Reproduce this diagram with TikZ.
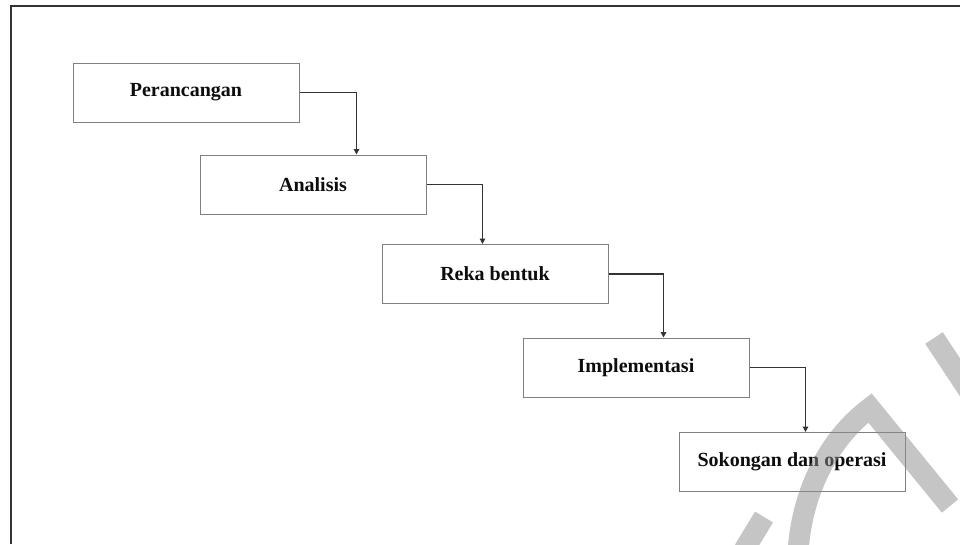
\documentclass[tikz,border=0pt]{standalone}
\usepackage{fontspec}
\setmainfont{Liberation Serif}
\usetikzlibrary{arrows.meta}
\begin{document}
\begin{tikzpicture}[x=1pt,y=-1pt,
  stagebox/.style={draw=black!50,line width=1pt,fill=white,minimum width=226pt,minimum height=59pt,inner sep=0pt,
    font=\fontsize{20}{24}\selectfont\bfseries,text=black!95},
  flow/.style={draw=black!80,line width=1.6pt,-{Triangle[width=5.5pt,length=5.5pt]}},
  frame/.style={draw=black!80,line width=2pt},
  wm/.style={draw=black!45,line width=21pt,opacity=0.5}]
\useasboundingbox (0,0) rectangle (960,544);
\fill[white] (0,0) rectangle (960,544);
\draw[frame] (11,544) -- (11,6) -- (960,6);
\node[stagebox] (p) at (186,92.5) {Perancangan};
\node[stagebox] (a) at (313,184.5) {Analisis};
\node[stagebox] (r) at (495,274) {Reka bentuk};
\node[stagebox] (i) at (636,367.5) {Implementasi};
\node[stagebox] (s) at (792,462) {Sokongan dan operasi};
\draw[flow] (p.east) -| ([xshift=157pt]a.north west);
\draw[flow] (a.east) -| ([xshift=101pt]r.north west);
\draw[flow] (r.east) -| ([xshift=141pt]i.north west);
\draw[flow] (i.east) -| ([xshift=127pt]s.north west);
% watermark
\begin{scope}
\clip (0,0) rectangle (960,544);
\draw[wm] (744,550) -- (764,517);
\draw[wm,line join=miter] (798,552) .. controls (802,490) and (830,438) .. (870,408) -- (950,506);
\draw[wm] (934,338) -- (975,400);
\end{scope}
\end{tikzpicture}
\end{document}
